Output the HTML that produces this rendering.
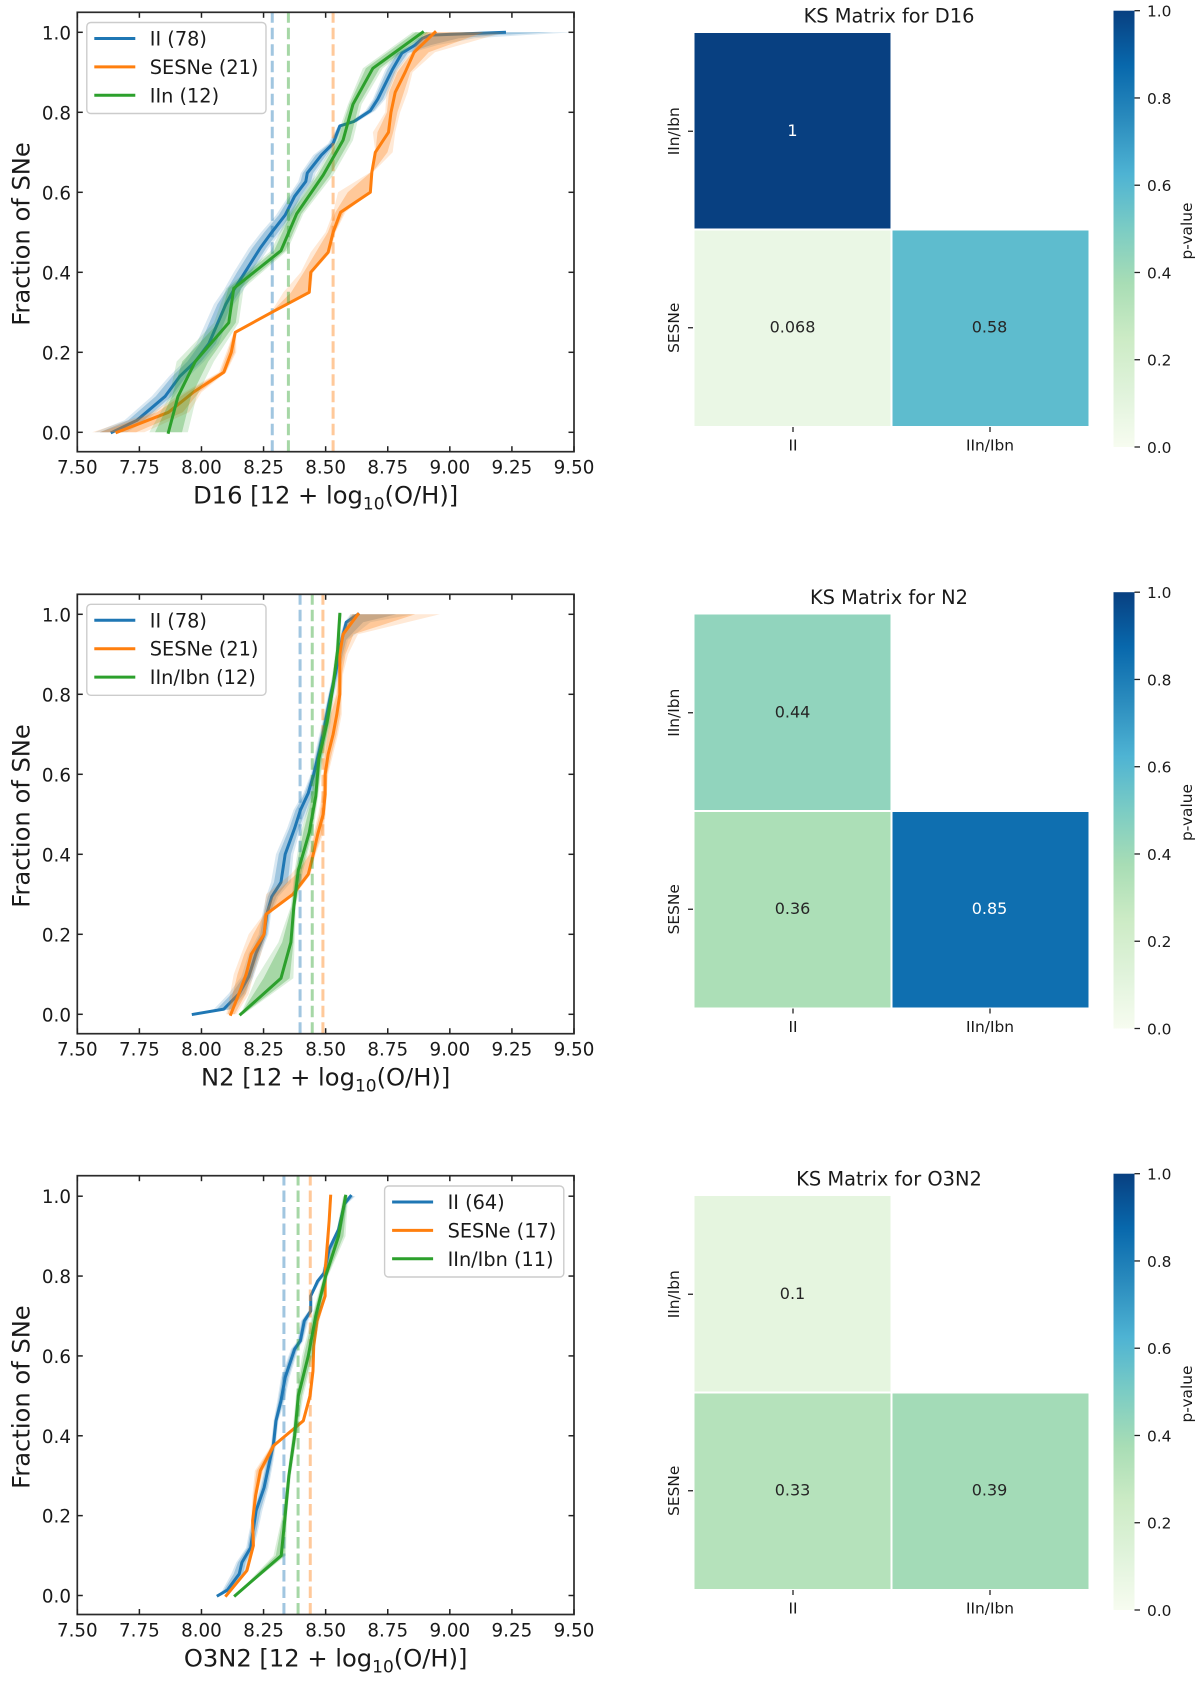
<!DOCTYPE html>
<html lang="en">
<head>
<meta charset="utf-8">
<title>Metallicity CDFs and KS matrices</title>
<style>
html,body{margin:0;padding:0;background:#fff;width:1200px;height:1684px;overflow:hidden}
svg{display:block;filter:blur(0.35px)}
text{font-family:"DejaVu Sans","Liberation Sans",sans-serif;fill:#1a1a1a}
</style>
</head>
<body>
<svg id="figure" xmlns="http://www.w3.org/2000/svg" width="1200" height="1684" viewBox="0 0 1200 1684">
<defs>
<linearGradient id="gnbu-gradient" x1="0" y1="1" x2="0" y2="0"></linearGradient>
</defs>
<rect x="0" y="0" width="1200" height="1684" fill="#ffffff"></rect>
</svg>
<script>
/* ---------- shared tick labels ---------- */
const xTicks = [7.5, 7.75, 8, 8.25, 8.5, 8.75, 9, 9.25, 9.5];
const xTickLabels = ["7.50", "7.75", "8.00", "8.25", "8.50", "8.75", "9.00", "9.25", "9.50"];
const yTicks = [0, 0.2, 0.4, 0.6, 0.8, 1];
const yTickLabels = ["0.0", "0.2", "0.4", "0.6", "0.8", "1.0"];
const matrixColumns = ["II", "IIn/Ibn"];
const matrixRows = ["IIn/Ibn", "SESNe"];

/* ---------- D16 CDFs ---------- */
const d16IIy = [0,.03,.09,.14,.177,.222,.32,.356,.40,.46,.50,.543,.59,.627,.648,.693,.722,.766,.777,.804,.833,.906,.948,.968,.985,.993,1];
const d16IIx = [7.64,7.74,7.854,7.913,7.975,8.03,8.098,8.13,8.175,8.236,8.283,8.337,8.375,8.42,8.426,8.483,8.53,8.557,8.614,8.68,8.71,8.768,8.807,8.86,8.89,8.92,9.22];
const d16IIlo = [7.57,7.69,7.80,7.87,7.93,7.98,8.05,8.09,8.13,8.19,8.24,8.30,8.35,8.39,8.40,8.45,8.51,8.55,8.60,8.66,8.69,8.74,8.78,8.84,8.87,8.91,9.00];
const d16IIhi = [7.70,7.78,7.89,7.95,8.01,8.07,8.13,8.17,8.21,8.27,8.32,8.37,8.41,8.45,8.46,8.51,8.54,8.57,8.63,8.70,8.74,8.79,8.84,8.95,9.10,9.30,9.50];
const d16SEy = [0,.05,.1,.15,.2,.25,.3,.35,.4,.45,.5,.55,.6,.65,.7,.75,.8,.85,.9,.95,1];
const d16SEx = [7.66,7.867,7.967,8.09,8.12,8.136,8.283,8.434,8.44,8.51,8.53,8.56,8.68,8.686,8.70,8.753,8.763,8.78,8.82,8.856,8.94];
const d16SElo = [7.56,7.80,7.93,8.07,8.10,8.13,8.28,8.33,8.40,8.44,8.50,8.53,8.55,8.68,8.70,8.69,8.74,8.745,8.775,8.845,8.89];
const d16SEhi = [7.77,7.95,8.00,8.10,8.14,8.14,8.29,8.44,8.45,8.52,8.54,8.58,8.68,8.69,8.77,8.78,8.80,8.83,8.85,8.94,9.22];
const d16INy = [0,.089,.177,.274,.36,.454,.546,.643,.73,.82,.91,1];
const d16INx = [7.867,7.905,7.975,8.11,8.13,8.32,8.383,8.49,8.57,8.61,8.69,8.89];
const d16INlo = [7.79,7.87,7.90,8.05,8.10,8.28,8.35,8.46,8.54,8.59,8.65,8.85];
const d16INhi = [7.945,7.98,8.05,8.15,8.17,8.345,8.41,8.53,8.61,8.645,8.73,8.92];
const d16Medians = [8.285, 8.53, 8.35];
const d16Legend = ["II (78)", "SESNe (21)", "IIn (12)"];

/* ---------- N2 CDFs ---------- */
const n2IIy = [0,.013,.052,.094,.153,.2,.25,.294,.33,.40,.465,.51,.553,.60,.66,.727,.798,.853,.936,.98,1];
const n2IIx = [7.967,8.09,8.152,8.19,8.22,8.252,8.263,8.283,8.32,8.337,8.375,8.398,8.43,8.452,8.475,8.498,8.52,8.54,8.565,8.583,8.63];
const n2IIlo = [7.967,8.05,8.11,8.16,8.19,8.23,8.245,8.26,8.28,8.30,8.345,8.37,8.41,8.44,8.46,8.485,8.51,8.53,8.55,8.575,8.60];
const n2IIhi = [7.98,8.13,8.18,8.21,8.24,8.27,8.28,8.31,8.36,8.37,8.40,8.43,8.455,8.47,8.49,8.51,8.535,8.555,8.59,8.68,8.85];
const n2SEy = [0,.05,.1,.15,.2,.25,.3,.35,.4,.45,.5,.55,.6,.65,.7,.75,.8,.85,.9,.95,1];
const n2SEx = [8.118,8.15,8.18,8.20,8.252,8.26,8.368,8.43,8.45,8.468,8.49,8.498,8.498,8.51,8.53,8.545,8.557,8.557,8.557,8.57,8.63];
const n2SElo = [8.10,8.115,8.13,8.16,8.19,8.25,8.26,8.36,8.43,8.45,8.47,8.485,8.49,8.49,8.50,8.51,8.54,8.55,8.55,8.565,8.60];
const n2SEhi = [8.14,8.19,8.21,8.24,8.26,8.27,8.38,8.44,8.46,8.49,8.50,8.505,8.51,8.53,8.55,8.565,8.565,8.57,8.59,8.63,8.96];
const n2INy = [0,.09,.18,.27,.36,.455,.545,.64,.73,.82,.91,1];
const n2INx = [8.158,8.32,8.36,8.372,8.39,8.434,8.46,8.473,8.506,8.53,8.548,8.557];
const n2INlo = [8.158,8.22,8.31,8.36,8.375,8.40,8.44,8.46,8.49,8.52,8.54,8.55];
const n2INhi = [8.17,8.37,8.375,8.38,8.41,8.45,8.47,8.49,8.52,8.535,8.555,8.565];
const n2Medians = [8.397, 8.489, 8.446];
const n2Legend = ["II (78)", "SESNe (21)", "IIn/Ibn (12)"];

/* ---------- O3N2 CDFs ---------- */
const o3IIy = [0,.014,.054,.083,.12,.154,.2125,.27,.3375,.38,.4375,.4875,.546,.617,.6375,.6875,.7125,.75,.7875,.808,.867,.917,.98,1];
const o3IIx = [8.067,8.105,8.152,8.163,8.198,8.206,8.22,8.252,8.275,8.29,8.30,8.32,8.337,8.375,8.398,8.414,8.44,8.44,8.468,8.494,8.514,8.552,8.575,8.60];
const o3IIlo = [8.067,8.085,8.12,8.14,8.18,8.19,8.21,8.235,8.26,8.28,8.29,8.305,8.32,8.36,8.385,8.40,8.43,8.44,8.46,8.485,8.505,8.545,8.57,8.59];
const o3IIhi = [8.08,8.125,8.175,8.185,8.21,8.225,8.245,8.27,8.29,8.30,8.31,8.335,8.355,8.39,8.41,8.43,8.445,8.445,8.48,8.505,8.53,8.565,8.585,8.62];
const o3SEy = [0,.0625,.125,.1875,.25,.3125,.375,.4375,.5,.5625,.625,.6875,.75,.8125,.875,.9375,1];
const o3SEx = [8.10,8.183,8.209,8.206,8.218,8.237,8.29,8.41,8.437,8.449,8.452,8.465,8.498,8.498,8.506,8.514,8.52];
const o3SElo = [8.10,8.175,8.20,8.20,8.205,8.215,8.28,8.405,8.43,8.445,8.448,8.455,8.49,8.495,8.50,8.51,8.518];
const o3SEhi = [8.105,8.19,8.215,8.21,8.225,8.25,8.30,8.415,8.445,8.455,8.458,8.475,8.502,8.505,8.515,8.52,8.525];
const o3INy = [0,.1,.2,.3,.4,.5,.6,.7,.8,.9,1];
const o3INx = [8.136,8.321,8.337,8.352,8.375,8.39,8.43,8.46,8.50,8.552,8.58];
const o3INlo = [8.136,8.29,8.325,8.345,8.365,8.38,8.405,8.445,8.49,8.54,8.57];
const o3INhi = [8.14,8.34,8.345,8.36,8.385,8.41,8.45,8.475,8.51,8.58,8.59];
const o3Medians = [8.332, 8.438, 8.389];
const o3Legend = ["II (64)", "SESNe (17)", "IIn/Ibn (11)"];

/* ---------- KS matrices (rows: IIn/Ibn, SESNe; columns: II, IIn/Ibn) ---------- */
const d16KS = [[1, null], [0.068, 0.58]];
const d16KSLabels = [["1", ""], ["0.068", "0.58"]];
const n2KS = [[0.44, null], [0.36, 0.85]];
const n2KSLabels = [["0.44", ""], ["0.36", "0.85"]];
const o3KS = [[0.1, null], [0.33, 0.39]];
const o3KSLabels = [["0.1", ""], ["0.33", "0.39"]];
const colorbarTicks = [0, 0.2, 0.4, 0.6, 0.8, 1];
const colorbarTickLabels = ["0.0", "0.2", "0.4", "0.6", "0.8", "1.0"];
const gnbuStops = ["#f7fcf0","#e0f3db","#ccebc5","#a8ddb5","#7bccc4","#4eb3d3","#2b8cbe","#0868ac","#084081"];

/* ---------- layout ---------- */
const seriesColors = ["#1f77b4", "#ff7f0e", "#2ca02c"];
const seriesKeys = ["ii", "sesne", "iin"];
const AX_LEFT = 77.3, AX_RIGHT = 574;
const TICK_FONT = 18.3, LABEL_FONT = 24.2, LEGEND_FONT = 19.3, MATRIX_FONT = 15.4, ANNOT_FONT = 16, TITLE_FONT = 19.4;
const INNER_SHARE = 0.7;
const svg = document.getElementById("figure");
const NS = "http://www.w3.org/2000/svg";

function make(tag, attrs, parent) {
  const el = document.createElementNS(NS, tag);
  for (const k in attrs) el.setAttribute(k, attrs[k]);
  (parent || svg).appendChild(el);
  return el;
}
function hexToRgb(h) {
  return [1, 3, 5].map(i => parseInt(h.substr(i, 2), 16));
}
function colormap(v) {
  const t = Math.max(0, Math.min(1, v)) * (gnbuStops.length - 1);
  const i = Math.min(Math.floor(t), gnbuStops.length - 2);
  const a = hexToRgb(gnbuStops[i]), b = hexToRgb(gnbuStops[i + 1]), f = t - i;
  return "rgb(" + a.map((c, n) => Math.round(c + (b[n] - c) * f)).join(",") + ")";
}

/* colour bar gradient from the colormap stops */
const gradient = document.getElementById("gnbu-gradient");
gnbuStops.forEach(function (c, i) {
  make("stop", { offset: i / (gnbuStops.length - 1), "stop-color": c }, gradient);
});

function drawCdfPanel(p) {
  const g = make("g", {});
  
  
  const x = v => AX_LEFT + (v - 7.5) * (AX_RIGHT - AX_LEFT) / 2;
  const y = v => p.y0 + (p.y1 - p.y0) * v;
  const plotLeft = AX_LEFT, plotRight = AX_RIGHT;

  p.series.forEach(function (s, i) {
    const color = seriesColors[i];
    const outerPts = [], innerPts = [];
    s.y.forEach(function (v, n) { outerPts.push(x(s.lo[n]).toFixed(2) + "," + y(v).toFixed(2)); });
    for (let n = s.y.length - 1; n >= 0; n--) outerPts.push(x(s.hi[n]).toFixed(2) + "," + y(s.y[n]).toFixed(2));
    s.y.forEach(function (v, n) { innerPts.push(x(s.x[n] + (s.lo[n] - s.x[n]) * INNER_SHARE).toFixed(2) + "," + y(v).toFixed(2)); });
    for (let n = s.y.length - 1; n >= 0; n--) innerPts.push(x(s.x[n] + (s.hi[n] - s.x[n]) * INNER_SHARE).toFixed(2) + "," + y(s.y[n]).toFixed(2));

    const outer = make("polygon", { points: outerPts.join(" "), fill: color, "fill-opacity": 0.17 }, g);
    
    
    const inner = make("polygon", { points: innerPts.join(" "), fill: color, "fill-opacity": 0.3 }, g);
    
    

    const median = make("line", { x1: x(p.medians[i]), x2: x(p.medians[i]), y1: p.bottom, y2: p.top, stroke: color, "stroke-opacity": 0.42, "stroke-width": 3, "stroke-dasharray": "11.5 5" }, g);
    
    

    const pts = s.y.map((v, n) => x(s.x[n]).toFixed(2) + "," + y(v).toFixed(2)).join(" ");
    const line = make("polyline", { points: pts, fill: "none", stroke: color, "stroke-width": 3, "stroke-linejoin": "round", "stroke-linecap": "square" }, g);
    
    
  });

  /* axes frame */
  const frame = make("rect", { x: plotLeft, y: p.top, width: plotRight - plotLeft, height: p.bottom - p.top, fill: "none", stroke: "#2b2b2b", "stroke-width": 1.7 }, g);
  
  

  /* inward ticks on all four sides */
  xTicks.forEach(function (t, i) {
    const tb = make("line", { x1: x(t), x2: x(t), y1: p.bottom, y2: p.bottom - 5.5, stroke: "#222", "stroke-width": 1.5 }, g);
    
    
    const tt = make("line", { x1: x(t), x2: x(t), y1: p.top, y2: p.top + 5.5, stroke: "#222", "stroke-width": 1.5 }, g);
    
    
    const lab = make("text", { x: x(t), y: p.bottom + 22, "text-anchor": "middle", "font-size": TICK_FONT }, g);
    lab.textContent = xTickLabels[i];
    
    
  });
  yTicks.forEach(function (t, i) {
    const tl = make("line", { x1: plotLeft, x2: plotLeft + 5.5, y1: y(t), y2: y(t), stroke: "#222", "stroke-width": 1.5 }, g);
    
    
    const tr = make("line", { x1: plotRight, x2: plotRight - 5.5, y1: y(t), y2: y(t), stroke: "#222", "stroke-width": 1.5 }, g);
    
    
    const lab = make("text", { x: 71, y: y(t) + 7, "text-anchor": "end", "font-size": TICK_FONT }, g);
    lab.textContent = yTickLabels[i];
    
    
  });

  /* axis titles */
  const xl = make("text", { x: (plotLeft + plotRight) / 2, y: p.bottom + 52, "text-anchor": "middle", "font-size": LABEL_FONT }, g);
  
  
  const a = make("tspan", {}, xl); a.textContent = p.label + " [12 + log";
  const b = make("tspan", { dy: 6, "font-size": 17 }, xl); b.textContent = "10";
  const c = make("tspan", { dy: -6 }, xl); c.textContent = "(O/H)]";

  const cy = (p.top + p.bottom) / 2 + 2;
  const yl = make("text", { x: 0, y: 0, "text-anchor": "middle", "font-size": LABEL_FONT, transform: "translate(29.5 " + cy + ") rotate(-90)" }, g);
  yl.textContent = "Fraction of SNe";
  
  

  /* legend */
  const lg = make("g", {}, g);
  
  
  const box = make("rect", { x: p.legend.x, y: p.legend.y, width: p.legend.w, height: p.legend.h, rx: 4, ry: 4, fill: "#fff", "fill-opacity": 0.8, stroke: "#cccccc", "stroke-width": 1.4 }, lg);
  
  
  p.legendLabels.forEach(function (name, i) {
    const ly = p.legend.y + 16 + i * 28.4;
    const sw = make("line", { x1: p.legend.x + 7.5, x2: p.legend.x + 48.5, y1: ly, y2: ly, stroke: seriesColors[i], "stroke-width": 3 }, lg);
    
    
    const tx = make("text", { x: p.legend.x + 63, y: ly + 7, "font-size": LEGEND_FONT }, lg);
    tx.textContent = name;
    
    
  });
}

function drawMatrix(m) {
  const g = make("g", {});
  
  
  const dy = m.dy;
  const X0 = 694.5, CW = 197, Y0 = 33 + dy, CH = 196.5;

  m.values.forEach(function (row, r) {
    row.forEach(function (v, c) {
      if (v === null) return;
      const cell = make("rect", { x: X0 + c * CW + (c ? 1 : 0), y: Y0 + r * CH + (r ? 1 : 0), width: CW - 1, height: CH - 1, fill: colormap(v) }, g);
      
      
      const t = make("text", { x: X0 + (c + 0.5) * CW - 0.5, y: Y0 + (r + 0.5) * CH + 4.8, "text-anchor": "middle", "font-size": ANNOT_FONT }, g);
      t.textContent = m.labels[r][c];
      t.style.fill = v > 0.75 ? "#ffffff" : "#262626";
      
      
    });
  });

  const title = make("text", { x: 889, y: 22.7 + dy, "text-anchor": "middle", "font-size": TITLE_FONT }, g);
  title.textContent = "KS Matrix for " + m.label;
  
  

  matrixColumns.forEach(function (name, i) {
    const cx = X0 + (i + 0.5) * CW;
    const tick = make("line", { x1: cx, x2: cx, y1: Y0 + 2 * CH + 1, y2: Y0 + 2 * CH + 6, stroke: "#222", "stroke-width": 1.3 }, g);
    
    
    const t = make("text", { x: cx, y: 450.7 + dy, "text-anchor": "middle", "font-size": MATRIX_FONT }, g);
    t.textContent = name;
    
    
  });
  matrixRows.forEach(function (name, i) {
    const cy = Y0 + (i + 0.5) * CH;
    const tick = make("line", { x1: X0 - 6.5, x2: X0 - 1.5, y1: cy, y2: cy, stroke: "#222", "stroke-width": 1.3 }, g);
    
    
    const t = make("text", { x: 0, y: 0, "text-anchor": "middle", "font-size": MATRIX_FONT, transform: "translate(679 " + cy + ") rotate(-90)" }, g);
    t.textContent = name;
    
    
  });

  /* colour bar */
  const barTop = 10.7 + dy, barBottom = 447 + dy;
  const bar = make("rect", { x: 1113.5, y: barTop, width: 21, height: barBottom - barTop, fill: "url(#gnbu-gradient)" }, g);
  
  
  colorbarTicks.forEach(function (v, i) {
    const ty = barBottom + (barTop - barBottom) * v;
    const tick = make("line", { x1: 1134.5, x2: 1140, y1: ty, y2: ty, stroke: "#222", "stroke-width": 1.3 }, g);
    
    
    const t = make("text", { x: 1147, y: ty + 6, "font-size": MATRIX_FONT }, g);
    t.textContent = colorbarTickLabels[i];
    
    
  });
  const pv = make("text", { x: 0, y: 0, "text-anchor": "middle", "font-size": MATRIX_FONT, transform: "translate(1192 " + (231 + dy) + ") rotate(-90)" }, g);
  pv.textContent = "p-value";
  
  
}

drawCdfPanel({
  key: "d16", label: "D16", top: 12.3, bottom: 451.7, y0: 432.3, y1: 32.3,
  medians: d16Medians, legendLabels: d16Legend,
  legend: { x: 86.8, y: 22.5, w: 179.2, h: 91 },
  series: [
    { y: d16IIy, x: d16IIx, lo: d16IIlo, hi: d16IIhi },
    { y: d16SEy, x: d16SEx, lo: d16SElo, hi: d16SEhi },
    { y: d16INy, x: d16INx, lo: d16INlo, hi: d16INhi }
  ]
});
drawCdfPanel({
  key: "n2", label: "N2", top: 594.3, bottom: 1033.7, y0: 1014.3, y1: 614.3,
  medians: n2Medians, legendLabels: n2Legend,
  legend: { x: 86.8, y: 604.3, w: 179.2, h: 91 },
  series: [
    { y: n2IIy, x: n2IIx, lo: n2IIlo, hi: n2IIhi },
    { y: n2SEy, x: n2SEx, lo: n2SElo, hi: n2SEhi },
    { y: n2INy, x: n2INx, lo: n2INlo, hi: n2INhi }
  ]
});
drawCdfPanel({
  key: "o3n2", label: "O3N2", top: 1175.7, bottom: 1614.5, y0: 1595.5, y1: 1196.2,
  medians: o3Medians, legendLabels: o3Legend,
  legend: { x: 384.6, y: 1186, w: 179.2, h: 91 },
  series: [
    { y: o3IIy, x: o3IIx, lo: o3IIlo, hi: o3IIhi },
    { y: o3SEy, x: o3SEx, lo: o3SElo, hi: o3SEhi },
    { y: o3INy, x: o3INx, lo: o3INlo, hi: o3INhi }
  ]
});

drawMatrix({ key: "d16", label: "D16", dy: 0, values: d16KS, labels: d16KSLabels });
drawMatrix({ key: "n2", label: "N2", dy: 581.5, values: n2KS, labels: n2KSLabels });
drawMatrix({ key: "o3n2", label: "O3N2", dy: 1163, values: o3KS, labels: o3KSLabels });
</script>
</body>
</html>
